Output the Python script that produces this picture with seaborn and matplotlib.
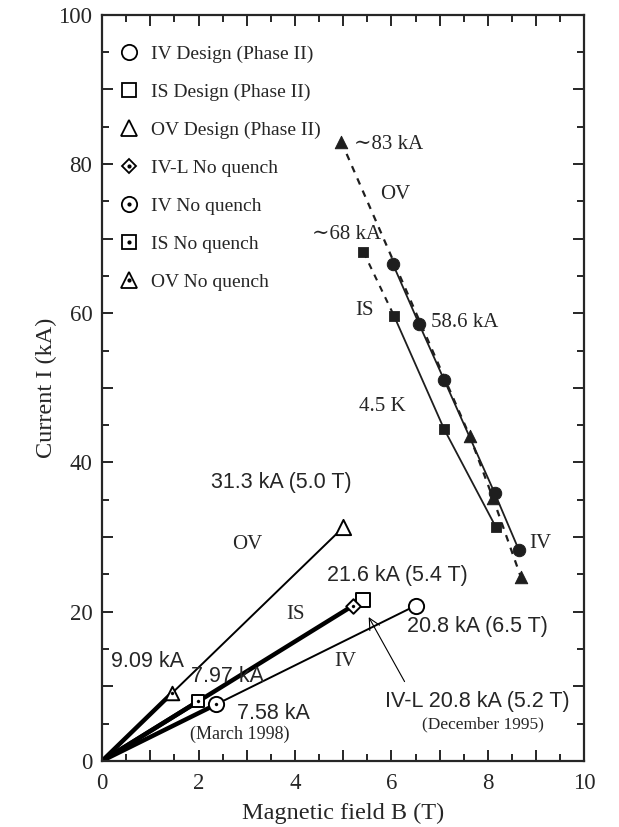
import matplotlib
matplotlib.use("Agg")
import matplotlib.pyplot as plt
import seaborn as sns
from matplotlib.lines import Line2D
from matplotlib.legend_handler import HandlerTuple
from matplotlib.ticker import MultipleLocator, FuncFormatter

# Phase II design points (IV, IS, OV)
design_b = [6.5, 5.4, 5.0]
design_i = [20.8, 21.6, 31.3]
design_markers = ["o", "s", "^"]
design_sizes = [120, 95, 120]

# no quench results (IV-L, IV, IS, OV)
nq_b = [5.2, 2.37, 1.99, 1.45]
nq_i = [20.8, 7.58, 7.97, 9.09]
nq_markers = ["D", "o", "s", "^"]
nq_sizes = [55, 120, 80, 95]

# critical current curves at 4.5 K
iv_b = [6.03, 6.57, 7.09, 8.14, 8.64]
iv_i = [66.6, 58.6, 51.1, 35.9, 28.3]
is_b = [5.42, 6.05, 7.09, 8.16]
is_i = [68.2, 59.7, 44.5, 31.4]
ov_b = [4.96, 7.62, 8.10, 8.68]
ov_i = [83.0, 43.6, 35.3, 24.7]

legend_labels = ["IV Design (Phase II)", "IS Design (Phase II)", "OV Design (Phase II)",
                 "IV-L No quench", "IV No quench", "IS No quench", "OV No quench"]

sns.set_style("ticks")
plt.rcParams["font.family"] = ["Liberation Serif", "DejaVu Serif"]
plt.rcParams["axes.linewidth"] = 1.6
plt.rcParams["xtick.direction"] = "in"
plt.rcParams["ytick.direction"] = "in"

SANS = ["Liberation Sans", "DejaVu Sans"]
DARK = "#1e1e1e"

fig = plt.figure(figsize=(6.19, 8.27), dpi=100)
ax = fig.add_axes([0.165, 0.08, 0.779, 0.902])

# load lines from the origin
for b, i in zip(design_b, design_i):
    sns.lineplot(x=[0, b], y=[0, i], color="black", lw=1.4, sort=False, ax=ax, zorder=2)
for b, i in zip(nq_b, nq_i):
    sns.lineplot(x=[0, b], y=[0, i], color="black", lw=3.2, sort=False, ax=ax, zorder=2)

# critical current lines
sns.lineplot(x=iv_b, y=iv_i, color=DARK, lw=1.3, sort=False, ax=ax, zorder=2)
sns.lineplot(x=is_b[:2], y=is_i[:2], color=DARK, lw=1.5, ls=(0, (3, 3)), sort=False, ax=ax, zorder=2)
sns.lineplot(x=is_b[1:], y=is_i[1:], color=DARK, lw=1.3, sort=False, ax=ax, zorder=2)
sns.lineplot(x=ov_b, y=ov_i, color=DARK, lw=1.6, ls=(0, (3, 3)), sort=False, ax=ax, zorder=2)

sns.scatterplot(x=iv_b, y=iv_i, marker="o", s=80, color=DARK, edgecolor=DARK, ax=ax, zorder=4)
sns.scatterplot(x=is_b, y=is_i, marker="s", s=55, color=DARK, edgecolor=DARK, ax=ax, zorder=4)
sns.scatterplot(x=ov_b, y=ov_i, marker="^", s=80, color=DARK, edgecolor=DARK, ax=ax, zorder=4)

# open markers
for b, i, m, s in zip(design_b, design_i, design_markers, design_sizes):
    sns.scatterplot(x=[b], y=[i], marker=m, s=s, color="white", edgecolor="black",
                    linewidth=1.4, ax=ax, zorder=5)
for b, i, m, s in zip(nq_b, nq_i, nq_markers, nq_sizes):
    sns.scatterplot(x=[b], y=[i], marker=m, s=s, color="white", edgecolor="black",
                    linewidth=1.4, ax=ax, zorder=5)
    sns.scatterplot(x=[b], y=[i], marker="o", s=5, color="black", edgecolor="black",
                    ax=ax, zorder=6)

# annotations
SERIF_FS = 15
SANS_FS = 15.5
ax.text(5.23, 82.6, "∼83 kA", fontsize=SERIF_FS, ha="left", va="center")
ax.text(6.07, 75.9, "OV", fontsize=SERIF_FS, ha="center", va="center")
ax.text(5.78, 70.6, "∼68 kA", fontsize=SERIF_FS, ha="right", va="center")
ax.text(5.44, 60.4, "IS", fontsize=SERIF_FS, ha="center", va="center")
ax.text(6.82, 58.7, "58.6 kA", fontsize=SERIF_FS, ha="left", va="center")
ax.text(5.82, 47.5, "4.5 K", fontsize=SERIF_FS, ha="center", va="center")
ax.text(8.85, 29.2, "IV", fontsize=SERIF_FS, ha="left", va="center")

ax.text(3.72, 37.3, "31.3 kA (5.0 T)", fontsize=SANS_FS, family=SANS, ha="center", va="center")
ax.text(3.0, 29.0, "OV", fontsize=SERIF_FS, ha="center", va="center")
ax.text(6.13, 24.9, "21.6 kA (5.4 T)", fontsize=SANS_FS, family=SANS, ha="center", va="center")
ax.text(4.0, 19.6, "IS", fontsize=SERIF_FS, ha="center", va="center")
ax.text(7.78, 18.0, "20.8 kA (6.5 T)", fontsize=SANS_FS, family=SANS, ha="center", va="center")
ax.text(5.04, 13.3, "IV", fontsize=SERIF_FS, ha="center", va="center")
ax.text(0.94, 13.3, "9.09 kA", fontsize=SANS_FS, family=SANS, ha="center", va="center")
ax.text(2.6, 11.3, "7.97 kA", fontsize=SANS_FS, family=SANS, ha="center", va="center")
ax.text(3.56, 6.3, "7.58 kA", fontsize=SANS_FS, family=SANS, ha="center", va="center")
ax.text(2.85, 3.5, "(March 1998)", fontsize=13, ha="center", va="center")
ax.text(7.78, 7.9, "IV-L 20.8 kA (5.2 T)", fontsize=SANS_FS, family=SANS, ha="center", va="center")
ax.text(7.9, 4.9, "(December 1995)", fontsize=12.5, ha="center", va="center")
ax.annotate("", xy=(5.5, 19.6), xytext=(6.3, 10.3),
            arrowprops=dict(arrowstyle="->", lw=0.8, color="black", mutation_scale=20))

# legend
handles = []
for m, s in zip(design_markers, [11, 10, 11]):
    handles.append(Line2D([], [], ls="none", marker=m, ms=s, mfc="white", mec="black", mew=1.3))
for m, s in zip(nq_markers, [7.5, 11, 10, 11]):
    open_h = Line2D([], [], ls="none", marker=m, ms=s, mfc="white", mec="black", mew=1.3)
    dot_h = Line2D([], [], ls="none", marker="o", ms=2, mfc="black", mec="black")
    handles.append((open_h, dot_h))
ax.legend(handles, legend_labels, handler_map={tuple: HandlerTuple(ndivide=1)},
          loc="upper left", bbox_to_anchor=(0.0, 0.983), frameon=False, fontsize=14,
          handlelength=1.0, handletextpad=0.6, labelspacing=1.05)

ax.set_xlim(0, 10)
ax.set_ylim(0, 100)
ax.xaxis.set_major_locator(MultipleLocator(1))
ax.xaxis.set_minor_locator(MultipleLocator(0.5))
ax.yaxis.set_major_locator(MultipleLocator(10))
ax.yaxis.set_minor_locator(MultipleLocator(5))
ax.xaxis.set_major_formatter(FuncFormatter(lambda v, p: f"{v:.0f}" if round(v) % 2 == 0 else ""))
ax.yaxis.set_major_formatter(FuncFormatter(lambda v, p: f"{v:.0f}" if round(v) % 20 == 0 else ""))
ax.tick_params(which="both", top=True, right=True, width=1.4, labelsize=16.5)
ax.tick_params(axis="x", which="major", pad=9)
ax.tick_params(axis="y", which="major", pad=7)
ax.tick_params(which="major", length=8)
ax.tick_params(which="minor", length=5)

ax.set_xlabel("Magnetic field B (T)", fontsize=17.5, labelpad=6)
ax.set_ylabel("Current I (kA)", fontsize=17.5, labelpad=1)

fig.savefig("out.png", dpi=100)
